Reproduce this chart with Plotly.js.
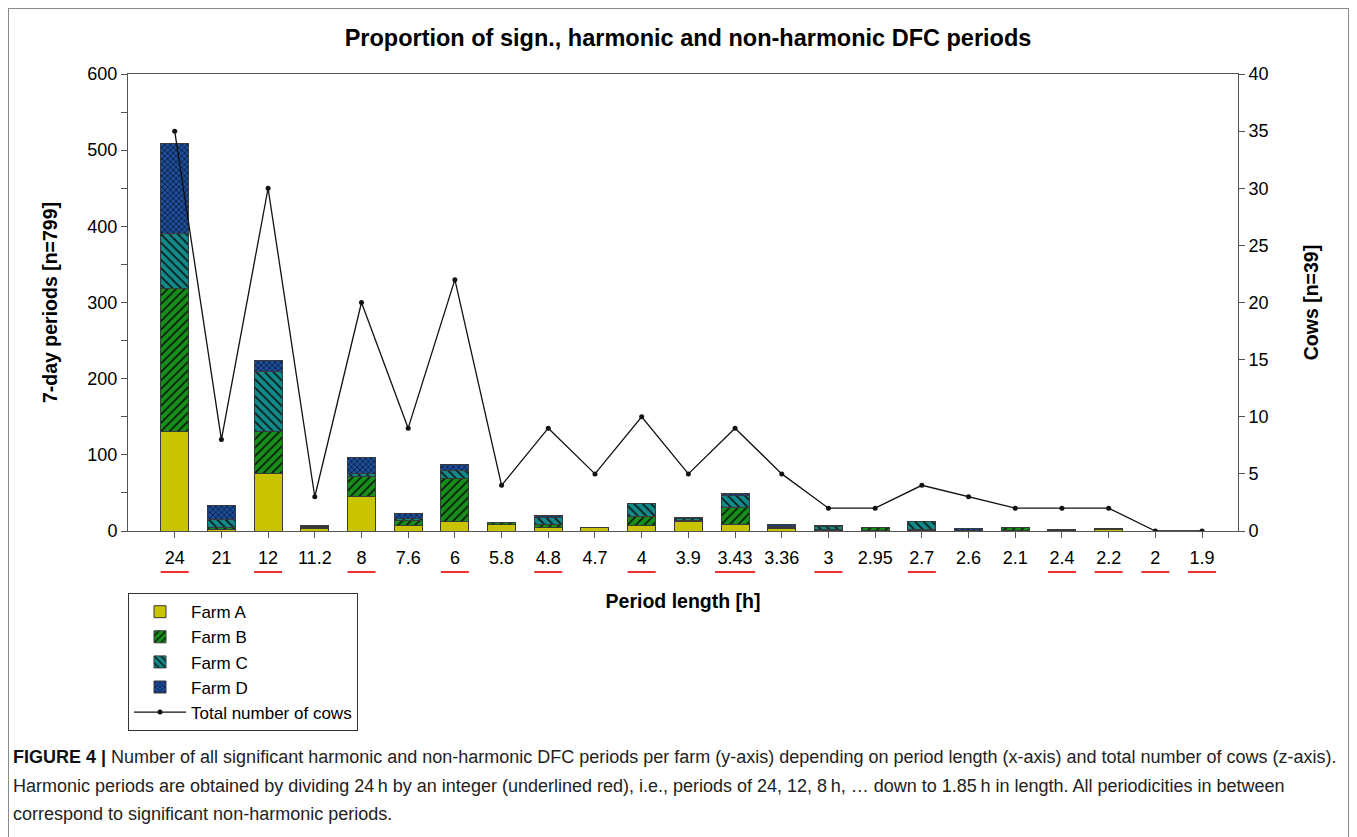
<!DOCTYPE html>
<html>
<head>
<meta charset="utf-8">
<script src="https://cdn.plot.ly/plotly-3.0.1.min.js"></script>
<style>
  html, body { margin: 0; padding: 0; background: #fff; }
  #wrap { position: relative; width: 1357px; height: 837px; overflow: hidden; }
  #chart { position: absolute; left: 0; top: 0; width: 1357px; height: 837px; }
  #frame { position: absolute; left: 8px; top: 8px; width: 1341px; height: 840px; border: 1px solid #8a8a8a; box-sizing: border-box; pointer-events: none; }
  #caption { position: absolute; left: 13px; top: 743px; width: 1340px; font-family: "Liberation Sans", Arial, sans-serif; font-size: 18px; line-height: 28.5px; color: #222; white-space: nowrap; }
  #caption b { color: #111; }
</style>
</head>
<body>
<div id="wrap">
  <div id="chart"></div>
  <div id="frame"></div>
  <div id="caption">
    <b>FIGURE 4 |</b> Number of all significant harmonic and non-harmonic DFC periods per farm (y-axis) depending on period length (x-axis) and total number of cows (z-axis).<br>
    Harmonic periods are obtained by dividing 24&#8201;h by an integer (underlined red), i.e., periods of 24, 12, 8&#8201;h, … down to 1.85&#8201;h in length. All periodicities in between<br>
    correspond to significant non-harmonic periods.
  </div>
</div>
<script>
// ---- data ----
const categories = ['24','21','12','11.2','8','7.6','6','5.8','4.8','4.7','4','3.9','3.43','3.36','3','2.95','2.7','2.6','2.1','2.4','2.2','2','1.9'];
const harmonic   = [true,false,true,false,true,false,true,false,true,false,true,false,true,false,true,false,true,false,false,true,true,true,true];
const farmA = [130, 2, 75, 3, 45, 7, 12, 9, 5, 4, 7, 12, 9, 3, 1, 1, 1, 1, 1, 0, 2, 0, 0];
const farmB = [189, 3, 56, 2, 26, 7, 57, 2, 3, 1, 12, 2, 22, 1, 1, 4, 1, 0, 4, 0, 1, 0, 0];
const farmC = [72, 10, 78, 1, 4, 3, 10, 0, 10, 0, 17, 3, 15, 2, 4, 0, 10, 0, 0, 1, 0, 0, 0];
const farmD = [118, 18, 15, 1, 22, 6, 8, 0, 3, 0, 0, 1, 3, 2, 1, 0, 0, 2, 0, 1, 0, 0, 0];
const cows  = [35, 8, 30, 3, 20, 9, 22, 4, 9, 5, 10, 5, 9, 5, 2, 2, 4, 3, 2, 2, 2, 0, 0];
const leftTicks  = [0, 100, 200, 300, 400, 500, 600];
const rightTicks = [0, 5, 10, 15, 20, 25, 30, 35, 40];

const FONT = '"Liberation Sans", Arial, sans-serif';
const outline = {color: '#3a3a3a', width: 1};
const barW = 0.6;
const TICK = 18, ATITLE = 19.5;

const traces = [
  {type: 'bar', name: 'Farm A', x: categories, y: farmA, width: barW,
   marker: {color: '#c8c400', line: outline}},
  {type: 'bar', name: 'Farm B', x: categories, y: farmB, width: barW,
   marker: {color: '#16901a', line: outline,
            pattern: {shape: '/', bgcolor: '#16901a', fgcolor: '#0a1a0a', size: 6, solidity: 0.3}}},
  {type: 'bar', name: 'Farm C', x: categories, y: farmC, width: barW,
   marker: {color: '#138a8a', line: outline,
            pattern: {shape: '\\', bgcolor: '#138a8a', fgcolor: '#0a1a1a', size: 6, solidity: 0.3}}},
  {type: 'bar', name: 'Farm D', x: categories, y: farmD, width: barW,
   marker: {color: '#1d4f9c', line: outline,
            pattern: {shape: 'x', bgcolor: '#1d4f9c', fgcolor: '#0a1530', size: 4, solidity: 0.35}}},
  {type: 'scatter', mode: 'lines+markers', name: 'Total number of cows', x: categories, y: cows, yaxis: 'y2',
   line: {color: '#111', width: 1.3}, marker: {color: '#111', size: 5}}
];

// red underlines beneath harmonic period labels
const shapes = [];
categories.forEach((c, i) => {
  if (!harmonic[i]) return;
  const hw = c.length >= 4 ? 0.43 : 0.3;
  shapes.push({type: 'line', xref: 'x', yref: 'paper', x0: i - hw, x1: i + hw, y0: -0.0897, y1: -0.0897,
               line: {color: '#f03030', width: 2}});
});

const layout = {
  width: 1357, height: 837,
  margin: {l: 128, r: 119, t: 74, b: 306},
  paper_bgcolor: '#fff', plot_bgcolor: '#fff',
  font: {family: FONT, size: TICK, color: '#000'},
  barmode: 'stack',
  showlegend: true,
  title: {text: '<b>Proportion of sign., harmonic and non-harmonic DFC periods</b>',
          font: {family: FONT, size: 23.5, color: '#000'},
          x: 688/1357, xref: 'container', xanchor: 'center', y: 1 - 38/837, yanchor: 'middle'},
  xaxis: {type: 'category', range: [-1, 22.77], showgrid: false, zeroline: false,
          showline: true, linecolor: '#555', linewidth: 1, mirror: true,
          ticks: 'outside', ticklen: 6, tickcolor: '#555', ticklabelstandoff: 4,
          tickfont: {family: FONT, size: TICK, color: '#000'},
          title: {text: '<b>Period length [h]</b>', font: {family: FONT, size: ATITLE, color: '#000'}, standoff: 27}},
  yaxis: {range: [0, 600], tickvals: leftTicks, showgrid: false, zeroline: false,
          showline: true, linecolor: '#555', linewidth: 1,
          ticks: 'outside', ticklen: 6, tickcolor: '#555',
          minor: {dtick: 50, ticks: 'outside', ticklen: 6, tickcolor: '#555', showgrid: false},
          tickfont: {family: FONT, size: TICK, color: '#000'},
          title: {text: '<b>7-day periods [n=799]</b>', font: {family: FONT, size: ATITLE, color: '#000'}, standoff: 24}},
  yaxis2: {range: [0, 40], tickvals: rightTicks, overlaying: 'y', side: 'right', showgrid: false, zeroline: false,
           showline: true, linecolor: '#555', linewidth: 1,
           ticks: 'outside', ticklen: 6, tickcolor: '#555',
           tickfont: {family: FONT, size: TICK, color: '#000'},
           title: {text: '<b>Cows [n=39]</b>', font: {family: FONT, size: ATITLE, color: '#000'}, standoff: 36}},
  legend: {x: 0, xanchor: 'left', y: -0.136, yanchor: 'top', traceorder: 'normal',
           bordercolor: '#333', borderwidth: 1, bgcolor: '#fff',
           font: {family: FONT, size: 17, color: '#000'}, itemwidth: 52, tracegroupgap: 0},
  shapes: shapes
};

Plotly.newPlot('chart', traces, layout, {displayModeBar: false, staticPlot: true});
</script>
</body>
</html>
